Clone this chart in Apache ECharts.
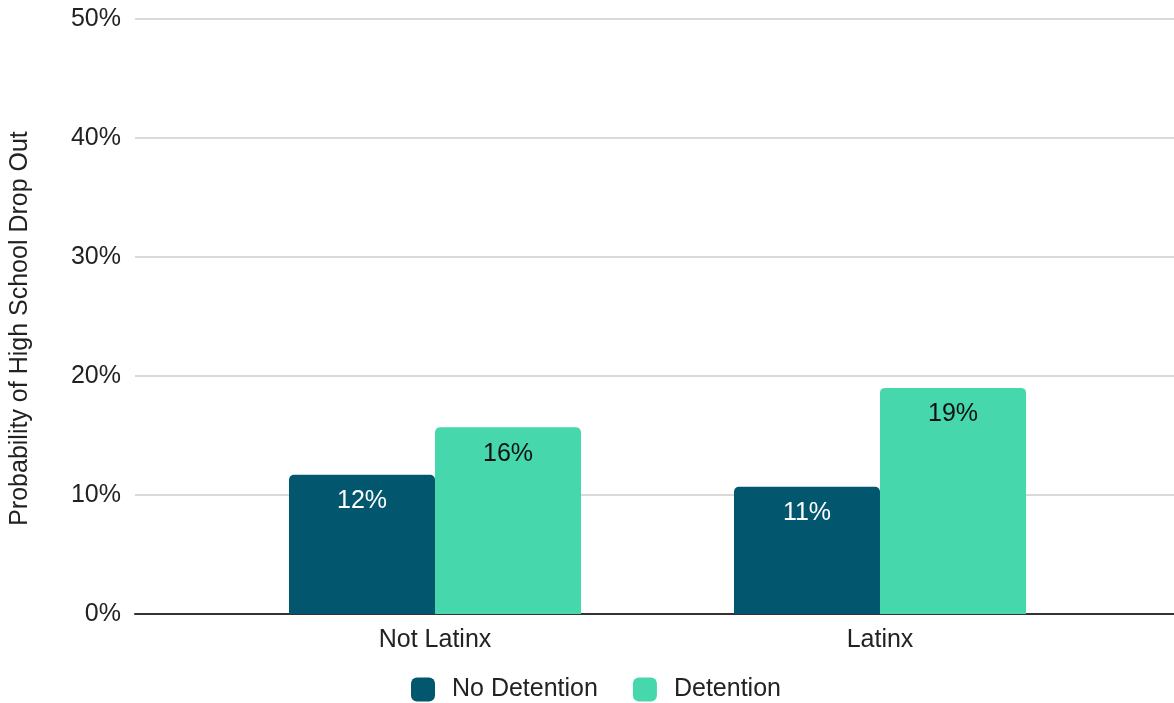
<!DOCTYPE html>
<html>
<head>
<meta charset="utf-8">
<script src="https://cdn.jsdelivr.net/npm/echarts@6/dist/echarts.min.js"></script>
<style>
html,body{margin:0;padding:0;background:#fff;}
#chart{width:1174px;height:703px;}
</style>
</head>
<body>
<div id="chart"></div>
<script>
const categories = ['Not Latinx', 'Latinx'];
const seriesNames = ['No Detention', 'Detention'];
const noDetention = [11.7, 10.7];
const detention = [15.7, 19.0];
const yTicks = [0, 10, 20, 30, 40, 50];
const yTitle = 'Probability of High School Drop Out';

const FONT = 'Liberation Sans, Arial, sans-serif';
const FS = 25;
const chart = echarts.init(document.getElementById('chart'), null, {renderer: 'canvas'});
const gridTop = 19, gridBottom = 89;
chart.setOption({
  animation: false,
  grid: [
    {left: 135, right: 0, top: gridTop, bottom: gridBottom},
    {left: 212.5, right: 71.5, top: gridTop, bottom: gridBottom}
  ],
  legend: {
    top: 677,
    left: 411,
    padding: 0,
    itemWidth: 24, itemHeight: 24, itemGap: 35,
    icon: 'roundRect',
    textStyle: {fontFamily: FONT, fontSize: FS, color: '#222', padding: [2,0,0,12]},
    data: seriesNames
  },
  xAxis: [
    {gridIndex: 0, type: 'category', data: [''], axisLine: {show: true, lineStyle: {color: '#333', width: 2}},
     axisTick: {show: false}, axisLabel: {show: false}},
    {gridIndex: 1, type: 'category', data: categories, axisLine: {show: false}, axisTick: {show: false},
     axisLabel: {fontFamily: FONT, fontSize: FS, color: '#222', margin: 14}}
  ],
  yAxis: [
    {gridIndex: 0, type: 'value', min: yTicks[0], max: yTicks[yTicks.length-1], interval: 10,
     axisLine: {show: false}, axisTick: {show: false},
     axisLabel: {fontFamily: FONT, fontSize: FS, color: '#222', margin: 14, padding: [8,0,0,0], formatter: '{value}%'},
     splitLine: {lineStyle: {color: '#cccccc', width: 1.5}},
     name: yTitle, nameLocation: 'middle', nameGap: 102, nameRotate: 90,
     nameTextStyle: {fontFamily: FONT, fontSize: FS, color: '#222', padding: [0, 24, 0, 0]}},
    {gridIndex: 1, type: 'value', min: yTicks[0], max: yTicks[yTicks.length-1], interval: 10, show: false,
     splitLine: {show: false}}
  ],
  series: [
    {name: seriesNames[0], type: 'bar', xAxisIndex: 1, yAxisIndex: 1, data: noDetention,
     barWidth: 146, barGap: '0%', itemStyle: {color: '#02576f', borderRadius: [5,5,0,0]},
     label: {show: true, position: 'insideTop', distance: 14, fontFamily: FONT, fontSize: FS, color: '#ffffff',
       formatter: p => Math.round(p.value) + '%'}},
    {name: seriesNames[1], type: 'bar', xAxisIndex: 1, yAxisIndex: 1, data: detention,
     barWidth: 146, barGap: '0%', itemStyle: {color: '#46d8ac', borderRadius: [5,5,0,0]},
     label: {show: true, position: 'insideTop', distance: 14, fontFamily: FONT, fontSize: FS, color: '#111111',
       formatter: p => Math.round(p.value) + '%'}}
  ]
});
</script>
</body>
</html>
